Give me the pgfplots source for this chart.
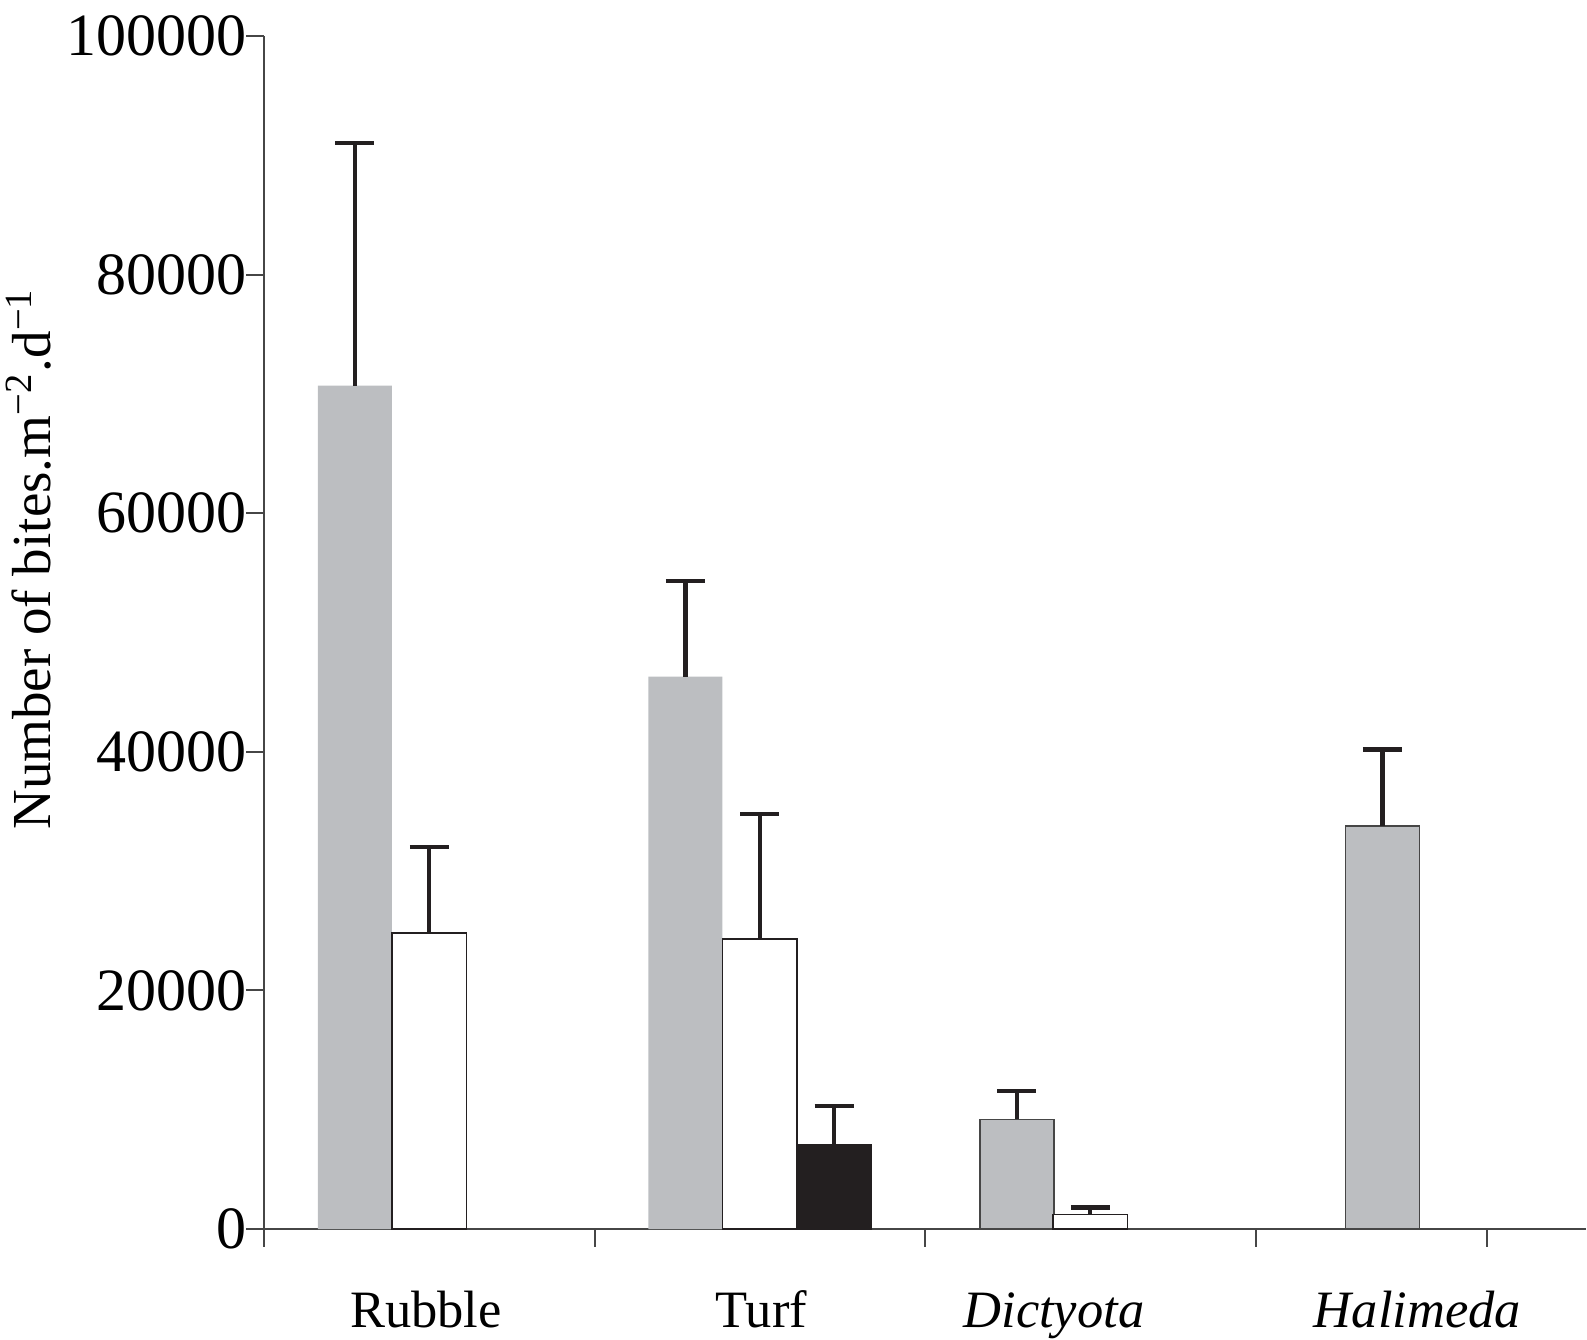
\documentclass[border=0pt]{standalone}
\usepackage{fontspec}
\setmainfont{Liberation Serif}
\usepackage{pgfplots}
\usepackage{pgfplotstable}
\pgfplotsset{compat=1.18}

\definecolor{bargray}{RGB}{188,190,193}
\definecolor{barblack}{RGB}{35,31,32}
\definecolor{axisgray}{RGB}{70,70,70}

% x = bar centre (category k spans k..k+1), y = mean, err = upper error
\pgfplotstableread{
x     y     err
0.275 70700 20300
1.275 46300 8000
}\grayplain
\pgfplotstableread{
x     y     err
2.278 9200  2400
3.384 33800 6400
}\grayframed
\pgfplotstableread{
x     y     err
0.500 24800 7200
1.500 24300 10500
2.500 1200  600
}\whitebars
\pgfplotstableread{
x     y     err
1.725 7100  3200
}\blackbars

\begin{document}
\begin{tikzpicture}
\begin{axis}[
  name=ax,
  scale only axis,
  width=264.4pt, height=238.6pt,
  xmin=0, xmax=4,
  ymin=0, ymax=100000,
  axis lines=left,
  axis line style={-, axisgray, line width=0.4pt},
  xtick={0,1,2,3,3.701},
  xticklabels={},
  ytick={0,20000,40000,60000,80000,100000},
  yticklabels={0,20000,40000,60000,80000,100000},
  tick align=outside,
  major tick length=3.5pt,
  tick style={axisgray, line width=0.4pt},
  scaled y ticks=false,
  yticklabel style={font=\fontsize{12}{14}\selectfont, xshift=3.6pt},
  ylabel={Number of bites.m\textsuperscript{−2}.d\textsuperscript{−1}},
  ylabel style={font=\fontsize{11}{13}\selectfont, at={(axis description cs:-0.178,0.562)}, anchor=center},
  ybar, bar shift=0pt, bar width=0.224,
  error bars/y dir=plus, error bars/y explicit,
  error bars/error bar style={barblack, line width=0.85pt},
  error bars/error mark options={barblack, line width=0.85pt, mark size=3.9pt, rotate=90},
  clip=false,
]
\addplot[fill=bargray, draw=none] table[x=x, y=y, y error=err] {\grayplain};
\addplot[fill=bargray, draw=axisgray, line width=0.3pt] table[x=x, y=y, y error=err] {\grayframed};
\addplot[fill=white, draw=barblack, line width=0.3pt] table[x=x, y=y, y error=err] {\whitebars};
\addplot[fill=barblack, draw=barblack, line width=0.3pt] table[x=x, y=y, y error=err] {\blackbars};

\node[anchor=base, font=\fontsize{10.5}{12}\selectfont] at (axis cs:0.49,0) [yshift=-19.6pt] {Rubble};
\node[anchor=base, font=\fontsize{10.5}{12}\selectfont] at (axis cs:1.505,0) [yshift=-19.6pt] {Turf};
\node[anchor=base, font=\fontsize{10.5}{12}\selectfont\itshape] at (axis cs:2.39,0) [yshift=-19.6pt] {Dictyota};
\node[anchor=base, font=\fontsize{10.5}{12}\selectfont\itshape] at (axis cs:3.49,0) [yshift=-19.6pt] {Halimeda};
\end{axis}
\pgfresetboundingbox
\path[use as bounding box] ([shift={(-52.8pt,-22pt)}]ax.south west) rectangle ([shift={(0.2pt,7.2pt)}]ax.north east);
\end{tikzpicture}
\end{document}
